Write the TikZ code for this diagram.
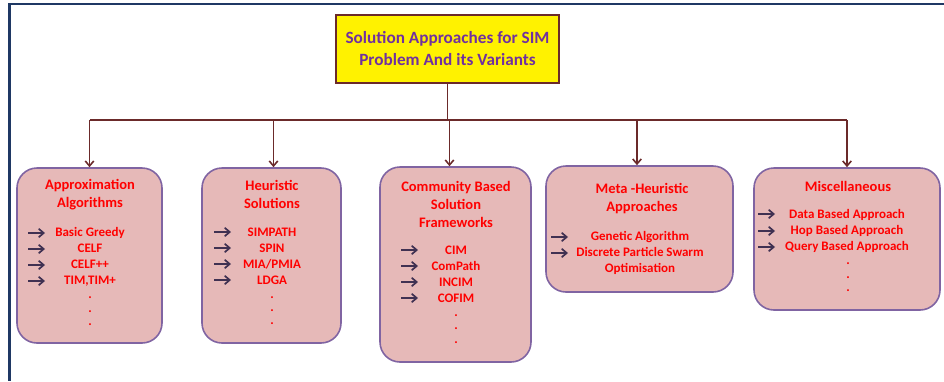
\documentclass[tikz,border=0pt]{standalone}
\usepackage{fontspec}
\setmainfont{Carlito}
\usetikzlibrary{arrows.meta}
\definecolor{boxfill}{HTML}{E6B9B8}
\definecolor{boxline}{HTML}{8064A2}
\definecolor{txtred}{HTML}{FF0000}
\definecolor{ttlpurple}{HTML}{7030A0}
\definecolor{conn}{HTML}{6B2A2A}
\definecolor{itemarrow}{HTML}{403152}
\definecolor{frame}{HTML}{1F3864}
\begin{document}
\begin{tikzpicture}[x=1pt,y=-1pt,
  catbox/.style={draw=boxline, line width=1.6pt, fill=boxfill, rounded corners=20pt, inner sep=0pt},
  head/.style={text=txtred, font=\bfseries\fontsize{14.5}{18}\selectfont, align=center, inner sep=0pt},
  items/.style={text=txtred, font=\bfseries\fontsize{13}{16}\selectfont, align=center, inner sep=0pt},
  dotn/.style={text=txtred, font=\bfseries\fontsize{13}{13}\selectfont, inner sep=0pt, text height=2pt, text depth=0pt},
  iarrow/.style={-{Straight Barb[length=5pt,width=8.5pt]}, draw=itemarrow, line width=1.7pt},
  connarrow/.style={-{Straight Barb[length=5pt,width=8.5pt]}, draw=conn, line width=1.6pt}]
\useasboundingbox (0,0) rectangle (944,381);
% frame
\draw[frame, line width=2.5pt] (8,4) -- (944,4);
\draw[frame, line width=2.5pt] (9.5,4) -- (9.5,381);
% title
\node[draw=conn, line width=1.2pt, fill=yellow, minimum width=223pt, minimum height=68pt, inner sep=0pt,
  text=ttlpurple, font=\bfseries\fontsize{17.2}{22}\selectfont, align=center] (title) at (447.5,49)
  {Solution Approaches for SIM\\Problem And its Variants};
% boxes
\node[catbox, minimum width=145pt, minimum height=175pt] (b1) at (89.5,255.5) {};
\node[catbox, minimum width=139pt, minimum height=175pt] (b2) at (271.5,255.5) {};
\node[catbox, minimum width=151pt, minimum height=195pt] (b3) at (455.5,264.5) {};
\node[catbox, minimum width=187pt, minimum height=126pt] (b4) at (639.5,229) {};
\node[catbox, minimum width=186pt, minimum height=142pt] (b5) at (847,239) {};
% connectors
\coordinate (bus) at (0,120);
\draw[conn, line width=1.6pt] (title.south) -- (title.south |- bus);
\draw[conn, line width=1.6pt] (b1.north |- bus) -- (b5.north |- bus);
\draw[connarrow] (b1.north |- bus) -- (b1.north);
\draw[connarrow] ([xshift=2pt]b2.north |- bus) -- ([xshift=2pt]b2.north);
\draw[connarrow] ([xshift=-6pt]b3.north |- bus) -- ([xshift=-6pt]b3.north);
\draw[connarrow] ([xshift=-2.5pt]b4.north |- bus) -- ([xshift=-2.5pt]b4.north);
\draw[connarrow] (b5.north |- bus) -- (b5.north);
% box 1
\node[head] (h1) at (90,195) {Approximation\\Algorithms};
\node[items] (i1) at (90,257) {Basic Greedy\\CELF\\CELF++\\TIM,TIM+};
\foreach \y [count=\k] in {297,311,324} \node[dotn] (d1-\k) at (90,\y) {.};
\foreach \y in {233,249,265,281} \draw[iarrow] (28,\y) -- (45,\y);
% box 2
\node[head] (h2) at (272,194) {Heuristic\\Solutions};
\node[items] (i2) at (272,256) {SIMPATH\\SPIN\\MIA/PMIA\\LDGA};
\foreach \y [count=\k] in {297,310,323} \node[dotn] (d2-\k) at (272,\y) {.};
\foreach \y in {232,248,264,280} \draw[iarrow] (214,\y) -- (231,\y);
% box 3
\node[head] (h3) at (456,204) {Community Based\\Solution\\Frameworks};
\node[items] (i3) at (456,274) {CIM\\ComPath\\INCIM\\COFIM};
\foreach \y [count=\k] in {315,328,342} \node[dotn] (d3-\k) at (456,\y) {.};
\foreach \y in {250,266,282,298} \draw[iarrow] (401,\y) -- (418,\y);
% box 4
\node[head] (h4) at (642,199) {Meta -Heuristic\\Approaches};
\node[items] (i4) at (640,253) {Genetic Algorithm\\Discrete Particle Swarm\\Optimisation};
\foreach \y in {237,253} \draw[iarrow] (551,\y) -- (568,\y);
% box 5
\node[head] (h5) at (848,186) {Miscellaneous};
\node[items] (i5) at (847,231) {Data Based Approach\\Hop Based Approach\\Query Based Approach};
\foreach \y [count=\k] in {263,277,290} \node[dotn] (d5-\k) at (848,\y) {.};
\foreach \y in {214,231,247} \draw[iarrow] (758,\y) -- (775,\y);
\end{tikzpicture}
\end{document}
